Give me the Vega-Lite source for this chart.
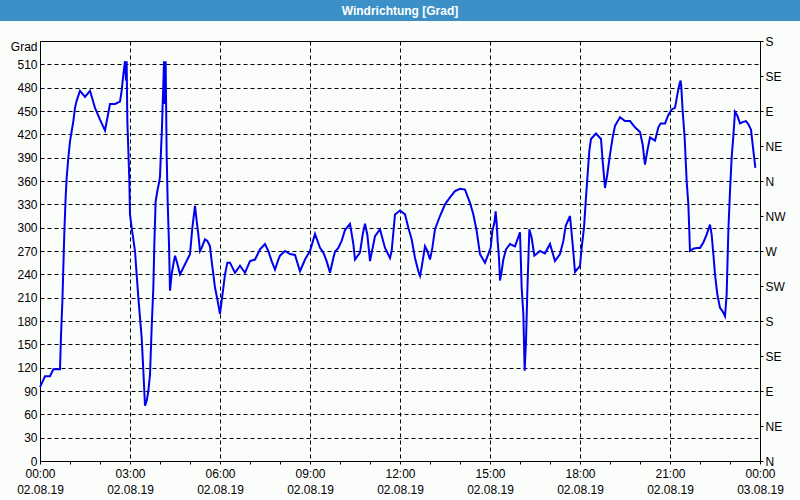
{
  "$schema": "https://vega.github.io/schema/vega-lite/v6.json",
  "padding": 0,
  "background": "#fbfdfb",
  "spacing": 0,
  "config": {
    "font": "Liberation Sans",
    "axis": {
      "labelFont": "Liberation Sans",
      "labelFontSize": 12,
      "labelColor": "#000000",
      "domainColor": "#000000",
      "domainWidth": 1,
      "tickColor": "#000000",
      "tickWidth": 1,
      "gridColor": "#000000",
      "gridDash": [4, 3],
      "gridOpacity": 1,
      "gridWidth": 1,
      "titleFont": "Liberation Sans"
    }
  },
  "vconcat": [
    {
      "width": 760,
      "height": 21,
      "view": {"fill": "#3c8fc7", "stroke": null},
      "data": {"values": [{"t": "Windrichtung [Grad]"}]},
      "mark": {"type": "text", "color": "#ffffff", "font": "Liberation Sans", "fontWeight": "bold", "fontSize": 12, "baseline": "middle", "align": "center", "dx": -20},
      "encoding": {
        "text": {"field": "t", "type": "nominal"},
        "y": {"field": "t", "type": "nominal",
          "axis": {"orient": "left", "labels": false, "ticks": false, "title": null, "grid": false, "domain": true, "domainColor": "#3c8fc7", "domainWidth": 80, "translate": 0, "minExtent": 0, "maxExtent": 0}}
      }
    },
    {
      "width": 720,
      "height": 420,
      "view": {"stroke": null},
      "data": {"values": [
        {"m":0,"v":95},{"m":10,"v":109},{"m":20,"v":109},{"m":26.7,"v":118},{"m":40,"v":118},{"m":42,"v":161},{"m":44.7,"v":204},{"m":46.7,"v":249},{"m":48.7,"v":294},{"m":51.3,"v":339},{"m":53.3,"v":364},{"m":56.7,"v":390},{"m":60,"v":411},{"m":63.3,"v":424},{"m":66.7,"v":437},{"m":70,"v":454},{"m":73.3,"v":463},{"m":80,"v":476},{"m":90,"v":468},{"m":100,"v":476},{"m":110,"v":454},{"m":120,"v":439},{"m":130,"v":425},{"m":140,"v":459},{"m":150,"v":459},{"m":160,"v":462},{"m":163.3,"v":476},{"m":166.7,"v":497},{"m":170,"v":514},{"m":172,"v":489},{"m":173.3,"v":514},{"m":174.7,"v":437},{"m":176.7,"v":399},{"m":178.7,"v":360},{"m":180,"v":317},{"m":183.3,"v":300},{"m":190,"v":270},{"m":193.3,"v":240},{"m":196.7,"v":210},{"m":200,"v":184},{"m":203.3,"v":159},{"m":206.7,"v":116},{"m":210,"v":71},{"m":213.3,"v":77},{"m":216.7,"v":90},{"m":220,"v":111},{"m":223.3,"v":171},{"m":226.7,"v":223},{"m":228.7,"v":279},{"m":231.3,"v":334},{"m":234.7,"v":347},{"m":238.7,"v":360},{"m":240,"v":366},{"m":242,"v":399},{"m":244,"v":429},{"m":245.3,"v":459},{"m":246.7,"v":484},{"m":248,"v":514},{"m":249.3,"v":459},{"m":251.3,"v":514},{"m":253.3,"v":394},{"m":255.3,"v":334},{"m":258,"v":279},{"m":260,"v":219},{"m":263.3,"v":240},{"m":266.7,"v":253},{"m":270,"v":264},{"m":273.3,"v":257},{"m":280,"v":240},{"m":290,"v":253},{"m":300,"v":266},{"m":304.7,"v":300},{"m":310,"v":328},{"m":313.3,"v":309},{"m":316.7,"v":291},{"m":320,"v":270},{"m":323.3,"v":274},{"m":330,"v":285},{"m":334.7,"v":283},{"m":340,"v":276},{"m":343.3,"v":257},{"m":346.7,"v":240},{"m":350,"v":223},{"m":354.7,"v":208},{"m":360,"v":189},{"m":363.3,"v":206},{"m":366.7,"v":223},{"m":370,"v":240},{"m":374.7,"v":255},{"m":380,"v":255},{"m":390,"v":242},{"m":400,"v":251},{"m":410,"v":242},{"m":420,"v":257},{"m":430,"v":259},{"m":440,"v":272},{"m":450,"v":279},{"m":456.7,"v":270},{"m":463.3,"v":257},{"m":470,"v":246},{"m":476.7,"v":259},{"m":480,"v":264},{"m":490,"v":270},{"m":500,"v":266},{"m":510,"v":265},{"m":520,"v":244},{"m":530,"v":259},{"m":540,"v":270},{"m":550,"v":292},{"m":560,"v":274},{"m":566.7,"v":268},{"m":573.3,"v":257},{"m":580,"v":242},{"m":586.7,"v":261},{"m":590,"v":269},{"m":596.7,"v":274},{"m":603.3,"v":283},{"m":610,"v":297},{"m":620,"v":305},{"m":626.7,"v":279},{"m":630,"v":259},{"m":640,"v":268},{"m":645.3,"v":291},{"m":650,"v":305},{"m":654.7,"v":291},{"m":660,"v":257},{"m":670,"v":289},{"m":680,"v":298},{"m":690,"v":274},{"m":700,"v":261},{"m":703.3,"v":270},{"m":710,"v":317},{"m":720,"v":322},{"m":730,"v":317},{"m":736.7,"v":300},{"m":743.3,"v":285},{"m":750,"v":261},{"m":756.7,"v":244},{"m":760,"v":238},{"m":763.3,"v":249},{"m":770,"v":276},{"m":774.7,"v":270},{"m":780,"v":259},{"m":784.7,"v":274},{"m":790,"v":298},{"m":800,"v":315},{"m":810,"v":330},{"m":820,"v":339},{"m":830,"v":347},{"m":840,"v":350},{"m":850,"v":349},{"m":860,"v":332},{"m":866.7,"v":317},{"m":873.3,"v":296},{"m":880,"v":266},{"m":890,"v":255},{"m":896.7,"v":266},{"m":901.3,"v":274},{"m":904.7,"v":296},{"m":908.7,"v":306},{"m":911.3,"v":321},{"m":913.3,"v":306},{"m":915.3,"v":283},{"m":918,"v":261},{"m":920,"v":232},{"m":923.3,"v":244},{"m":926.7,"v":259},{"m":932,"v":272},{"m":940,"v":279},{"m":950,"v":276},{"m":960,"v":294},{"m":963.3,"v":223},{"m":966.7,"v":189},{"m":969.3,"v":116},{"m":972,"v":154},{"m":974.7,"v":219},{"m":978.7,"v":298},{"m":983.3,"v":287},{"m":988.7,"v":264},{"m":1000,"v":270},{"m":1010,"v":267},{"m":1020,"v":279},{"m":1030,"v":257},{"m":1040,"v":266},{"m":1046.7,"v":283},{"m":1051.3,"v":302},{"m":1060,"v":315},{"m":1065.3,"v":279},{"m":1070,"v":243},{"m":1080,"v":251},{"m":1083.3,"v":274},{"m":1088,"v":300},{"m":1092,"v":339},{"m":1095.3,"v":369},{"m":1098.7,"v":399},{"m":1102,"v":414},{"m":1112,"v":421},{"m":1122,"v":414},{"m":1125.3,"v":386},{"m":1130,"v":351},{"m":1134.7,"v":369},{"m":1140,"v":394},{"m":1145.3,"v":416},{"m":1150,"v":431},{"m":1160,"v":442},{"m":1170,"v":437},{"m":1180,"v":437},{"m":1190,"v":429},{"m":1200,"v":423},{"m":1205.3,"v":407},{"m":1210,"v":381},{"m":1214.7,"v":399},{"m":1220,"v":416},{"m":1230,"v":412},{"m":1236.7,"v":429},{"m":1241.3,"v":434},{"m":1250,"v":434},{"m":1256.7,"v":445},{"m":1263.3,"v":452},{"m":1270,"v":454},{"m":1274.7,"v":471},{"m":1278.7,"v":484},{"m":1281.3,"v":489},{"m":1282.7,"v":480},{"m":1285.3,"v":450},{"m":1289.3,"v":416},{"m":1293.3,"v":360},{"m":1296.7,"v":330},{"m":1300,"v":270},{"m":1306.7,"v":273},{"m":1313.3,"v":274},{"m":1320,"v":274},{"m":1326.7,"v":281},{"m":1333.3,"v":291},{"m":1340,"v":304},{"m":1343.3,"v":291},{"m":1346.7,"v":266},{"m":1350,"v":240},{"m":1354.7,"v":214},{"m":1360,"v":197},{"m":1364.7,"v":193},{"m":1370,"v":186},{"m":1373.3,"v":214},{"m":1376.7,"v":296},{"m":1380,"v":347},{"m":1383.3,"v":390},{"m":1386.7,"v":418},{"m":1390,"v":449},{"m":1394.7,"v":444},{"m":1400,"v":434},{"m":1406.7,"v":436},{"m":1412,"v":437},{"m":1416.7,"v":433},{"m":1422,"v":426},{"m":1425.3,"v":407},{"m":1428,"v":392},{"m":1430.7,"v":377}
      ]},
      "layer": [
        {
          "mark": {"type": "line", "strokeOpacity": 0},
          "encoding": {
            "x": {"field": "m", "type": "quantitative", "scale": {"domain": [0, 1440], "nice": false, "zero": false},
              "axis": {"orient": "bottom", "values": [0, 180, 360, 540, 720, 900, 1080, 1260, 1440], "tickSize": 3, "labelPadding": 4, "labelBaseline": "top", "labelLineHeight": 16, "labelFlush": false, "labelOverlap": false, "grid": true, "domain": true, "title": null,
                "labelExpr": "[(floor(datum.value/60)%24 < 10 ? '0' : '') + (floor(datum.value/60)%24) + ':00', datum.value >= 1440 ? '03.08.19' : '02.08.19']"}},
            "y": {"field": "v", "type": "quantitative", "scale": {"domain": [0, 540], "nice": false, "zero": true},
              "axis": {"orient": "left", "values": [0,30,60,90,120,150,180,210,240,270,300,330,360,390,420,450,480,510], "ticks": false, "labelPadding": 3, "grid": true, "domain": true, "labelOverlap": false,
                "title": "Grad", "titleAngle": 0, "titleAlign": "right", "titleBaseline": "middle", "titleX": -3, "titleY": 5, "titleFontSize": 12, "titleFontWeight": "normal", "titleColor": "#000000", "minExtent": 40, "maxExtent": 40}}
          }
        },
        {
          "mark": {"type": "line", "strokeOpacity": 0},
          "encoding": {
            "x": {"field": "m", "type": "quantitative",
              "axis": {"orient": "bottom", "values": [60,120,240,300,420,480,600,660,780,840,960,1020,1140,1200,1320,1380], "tickSize": 3, "labels": false, "domain": false, "grid": false, "title": null}},
            "y": {"field": "v", "type": "quantitative", "axis": null}
          }
        },
        {
          "mark": {"type": "line", "color": "#0000f0", "strokeWidth": 2},
          "encoding": {
            "x": {"field": "m", "type": "quantitative",
              "axis": {"orient": "top", "ticks": false, "labels": false, "grid": false, "domain": true, "title": null, "minExtent": 20, "maxExtent": 20}},
            "y": {"field": "v", "type": "quantitative",
              "axis": {"orient": "right", "values": [0,45,90,135,180,225,270,315,360,405,450,495,540], "tickSize": 3, "labelPadding": 2, "grid": false, "domain": true, "title": null, "labelOverlap": false, "labelFlush": false,
                "labelExpr": "['N','NE','E','SE','S','SW','W','NW'][round(datum.value/45)%8]"}}
          }
        }
      ],
      "resolve": {"axis": {"x": "independent", "y": "independent"}}
    }
  ]
}
